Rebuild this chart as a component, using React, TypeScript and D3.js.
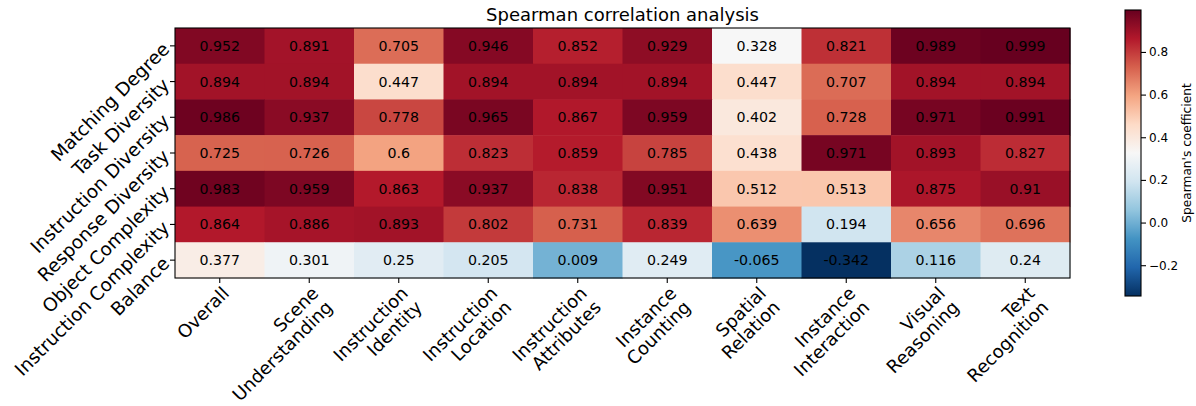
import * as React from "react";
import * as d3 from "d3";

const rowLabels = [
  "Matching Degree",
  "Task Diversity",
  "Instruction Diversity",
  "Response Diversity",
  "Object Complexity",
  "Instruction Complexity",
  "Balance",
];

const colLabels = [
  "Overall",
  "Scene\nUnderstanding",
  "Instruction\nIdentity",
  "Instruction\nLocation",
  "Instruction\nAttributes",
  "Instance\nCounting",
  "Spatial\nRelation",
  "Instance\nInteraction",
  "Visual\nReasoning",
  "Text\nRecognition",
];

const matchingDegree = [0.952, 0.891, 0.705, 0.946, 0.852, 0.929, 0.328, 0.821, 0.989, 0.999];
const taskDiversity = [0.894, 0.894, 0.447, 0.894, 0.894, 0.894, 0.447, 0.707, 0.894, 0.894];
const instructionDiversity = [0.986, 0.937, 0.778, 0.965, 0.867, 0.959, 0.402, 0.728, 0.971, 0.991];
const responseDiversity = [0.725, 0.726, 0.6, 0.823, 0.859, 0.785, 0.438, 0.971, 0.893, 0.827];
const objectComplexity = [0.983, 0.959, 0.863, 0.937, 0.838, 0.951, 0.512, 0.513, 0.875, 0.91];
const instructionComplexity = [0.864, 0.886, 0.893, 0.802, 0.731, 0.839, 0.639, 0.194, 0.656, 0.696];
const balance = [0.377, 0.301, 0.25, 0.205, 0.009, 0.249, -0.065, -0.342, 0.116, 0.24];

const colorbarTicks = [-0.2, 0, 0.2, 0.4, 0.6, 0.8];

// matplotlib RdBu, reversed
const rdbu = ["#67001f", "#b2182b", "#d6604d", "#f4a582", "#fddbc7", "#f7f7f7",
  "#d1e5f0", "#92c5de", "#4393c3", "#2166ac", "#053061"].reverse();

const FONT = "DejaVu Sans, sans-serif";

export default function App() {
  const width = 1196, height = 406;
  const left = 175, right = 1070, top = 28, bottom = 278;

  const rows = [matchingDegree, taskDiversity, instructionDiversity, responseDiversity,
    objectComplexity, instructionComplexity, balance];
  const all = rows.flat();
  const vmin = d3.min(all) as number;
  const vmax = d3.max(all) as number;

  const x = d3.scaleBand<number>().domain(d3.range(colLabels.length)).range([left, right]);
  const y = d3.scaleBand<number>().domain(d3.range(rowLabels.length)).range([top, bottom]);

  const cmapT = d3.scaleLinear<string>()
    .domain(d3.range(rdbu.length).map(i => i / (rdbu.length - 1)))
    .range(rdbu)
    .interpolate(d3.interpolateRgb);
  const norm = d3.scaleLinear().domain([vmin, vmax]).range([0, 1]).clamp(true);
  const color = (v: number) => cmapT(norm(v));

  // colorbar
  const cbX = 1125, cbW = 16, cbTop = 10, cbBottom = 296;
  const cbY = d3.scaleLinear().domain([vmin, vmax]).range([cbBottom, cbTop]);
  const fmt = d3.format(".1f");
  const stops = d3.range(0, 1.0001, 0.05);

  return (
    <svg width={width} height={height} style={{ position: "absolute", left: 0, top: 0, fontFamily: FONT }}>
      <rect width={width} height={height} fill="#fff" />
      <text x={(left + right) / 2} y={21} textAnchor="middle" fontSize={18}>Spearman correlation analysis</text>

      {rows.map((row, r) => row.map((v, c) => (
        <g key={`${r}-${c}`}>
          <rect x={x(c)} y={y(r)} width={x.bandwidth() + 0.5} height={y.bandwidth() + 0.5} fill={color(v)} />
          <text x={(x(c) as number) + x.bandwidth() / 2} y={(y(r) as number) + y.bandwidth() / 2}
            textAnchor="middle" dominantBaseline="central" fontSize={14.2}>{String(v)}</text>
        </g>
      )))}
      <rect x={left} y={top} width={right - left} height={bottom - top} fill="none" stroke="#000" strokeWidth={1.1} />

      {/* y ticks */}
      {rowLabels.map((lab, r) => {
        const yy = (y(r) as number) + y.bandwidth() / 2;
        return (
          <g key={lab}>
            <line x1={left - 5} x2={left} y1={yy} y2={yy} stroke="#000" strokeWidth={1.1} />
            <text transform={`translate(${left - 9},${yy}) rotate(-45)`} textAnchor="end"
              dominantBaseline="central" fontSize={18.5}>{lab}</text>
          </g>
        );
      })}

      {/* x ticks */}
      {colLabels.map((lab, c) => {
        const xx = (x(c) as number) + x.bandwidth() / 2;
        return (
          <g key={lab}>
            <line x1={xx} x2={xx} y1={bottom} y2={bottom + 5} stroke="#000" strokeWidth={1.1} />
            <text transform={`translate(${xx},${bottom + 6}) rotate(-45)`} textAnchor="end" fontSize={18}>
              {lab.split("\n").map((line, i) => (
                <tspan key={i} x={0} dy={i === 0 ? "0.82em" : "1.1em"}>{line}</tspan>
              ))}
            </text>
          </g>
        );
      })}

      {/* colorbar */}
      <defs>
        <linearGradient id="cb" x1="0" y1="1" x2="0" y2="0">
          {stops.map(t => <stop key={t} offset={t} stopColor={cmapT(t)} />)}
        </linearGradient>
      </defs>
      <rect x={cbX} y={cbTop} width={cbW} height={cbBottom - cbTop} fill="url(#cb)" stroke="#000" strokeWidth={1.1} />
      {colorbarTicks.map(t => (
        <g key={t}>
          <line x1={cbX + cbW} x2={cbX + cbW + 5} y1={cbY(t)} y2={cbY(t)} stroke="#000" strokeWidth={1.1} />
          <text x={cbX + cbW + 8} y={cbY(t)} dominantBaseline="central" fontSize={12}>{fmt(t)}</text>
        </g>
      ))}
      <text transform={`translate(1187,${(cbTop + cbBottom) / 2}) rotate(-90)`} textAnchor="middle"
        dominantBaseline="central" fontSize={12.2}>Spearman's coefficient</text>
    </svg>
  );
}
